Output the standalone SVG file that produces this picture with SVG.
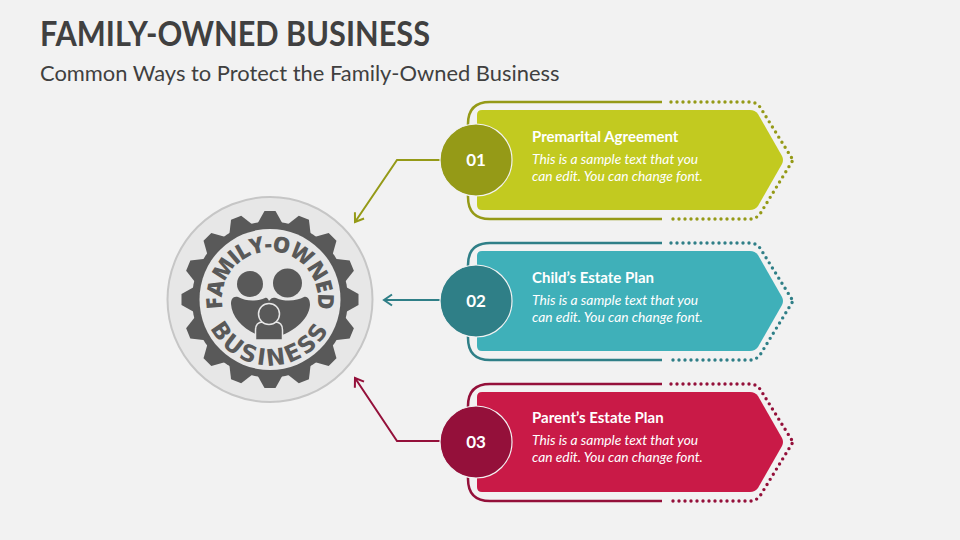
<svg xmlns="http://www.w3.org/2000/svg" xmlns:xlink="http://www.w3.org/1999/xlink" width="960" height="540" viewBox="0 0 960 540">
<style>
text{font-family:"Lato","Open Sans","Liberation Sans",sans-serif}
.title{font-size:34px;font-weight:700;fill:#404040}
.sub{font-size:21.9px;fill:#404040}
.h{font-size:15px;font-weight:700;fill:#fff}
.b{font-size:13.8px;font-style:italic;fill:#fff}
.n{font-size:17px;font-weight:700;fill:#fff;text-anchor:middle}
.arc{font-family:"Open Sans","Liberation Sans",sans-serif;font-size:22px;font-weight:800;letter-spacing:-.8px;fill:#595959;text-anchor:middle}
.arc2{font-family:"DejaVu Sans","Liberation Sans",sans-serif;font-size:23px;font-weight:700;letter-spacing:2.5px;fill:#595959;text-anchor:middle}
.solid{fill:none;stroke-width:2.5}
.dots{fill:none;stroke-width:3.4;stroke-dasharray:0 6;stroke-linecap:round}
.conn{fill:none;stroke-width:2}
.ring{stroke:#f2f2f2;stroke-width:1.2}
</style>
<defs>
<path id="card" d="M482,110H750Q755,110 758,114L782,156Q784,160 782,164L758,206Q755,210 750,210H482Q477,210 477,205V115Q477,110 482,110Z"/>
<path id="so" class="solid" d="M662,102H490Q468,102 468,124V197Q468,219 490,219H662"/>
<path id="do" class="dots" d="M671,102H750Q756,102 760,107L793,160"/>
<path id="do2" class="dots" d="M673,219H750Q756,219 760,214L793,160"/>
<path id="tooth" d="M264.500,211H275.500L285,228H255Z"/>
<path id="top" d="M233.200,330.400A48,48 0 1 1 306.800,330.400"/>
<path id="bot" d="M204,299.500A66,66 0 0 0 336,299.500"/>
<marker id="mo" markerWidth="14" markerHeight="14" refX="11" refY="7" orient="auto" markerUnits="userSpaceOnUse"><path d="M3,1.500L11,7L3,12.500" fill="none" stroke="#959a17" stroke-width="2"/></marker>
<marker id="mt" markerWidth="14" markerHeight="14" refX="11" refY="7" orient="auto" markerUnits="userSpaceOnUse"><path d="M3,1.500L11,7L3,12.500" fill="none" stroke="#2f7f87" stroke-width="2"/></marker>
<marker id="mr" markerWidth="14" markerHeight="14" refX="11" refY="7" orient="auto" markerUnits="userSpaceOnUse"><path d="M3,1.500L11,7L3,12.500" fill="none" stroke="#94103a" stroke-width="2"/></marker>
</defs>
<rect width="960" height="540" fill="#f2f2f2"/>
<text class="title" x="40" y="46" textLength="390" lengthAdjust="spacingAndGlyphs">FAMILY-OWNED BUSINESS</text>
<text class="sub" x="40" y="81">Common Ways to Protect the Family-Owned Business</text>
<g id="connectors">
<path class="conn" stroke="#959a17" marker-end="url(#mo)" d="M441,160H397L355,222"/>
<path class="conn" stroke="#2f7f87" marker-end="url(#mt)" d="M441,300H384"/>
<path class="conn" stroke="#94103a" marker-end="url(#mr)" d="M441,441H397L355,378"/>
</g>
<g id="hub">
<circle cx="270" cy="299.500" r="102.500" fill="#e7e7e7" stroke="#c6c6c6" stroke-width="2"/>
<g fill="#595959">
<circle cx="270" cy="299.500" r="78"/>
<use xlink:href="#tooth"/>
<use xlink:href="#tooth" transform="rotate(22.5 270 299.500)"/>
<use xlink:href="#tooth" transform="rotate(45 270 299.500)"/>
<use xlink:href="#tooth" transform="rotate(67.5 270 299.500)"/>
<use xlink:href="#tooth" transform="rotate(90 270 299.500)"/>
<use xlink:href="#tooth" transform="rotate(112.5 270 299.500)"/>
<use xlink:href="#tooth" transform="rotate(135 270 299.500)"/>
<use xlink:href="#tooth" transform="rotate(157.5 270 299.500)"/>
<use xlink:href="#tooth" transform="rotate(180 270 299.500)"/>
<use xlink:href="#tooth" transform="rotate(202.5 270 299.500)"/>
<use xlink:href="#tooth" transform="rotate(225 270 299.500)"/>
<use xlink:href="#tooth" transform="rotate(247.5 270 299.500)"/>
<use xlink:href="#tooth" transform="rotate(270 270 299.500)"/>
<use xlink:href="#tooth" transform="rotate(292.5 270 299.500)"/>
<use xlink:href="#tooth" transform="rotate(315 270 299.500)"/>
<use xlink:href="#tooth" transform="rotate(337.5 270 299.500)"/>
</g>
<circle cx="270" cy="299.500" r="70.500" fill="#e7e7e7"/>
<text class="arc"><textPath xlink:href="#top" startOffset="50%">FAMILY-OWNED</textPath></text>
<text class="arc2"><textPath xlink:href="#bot" startOffset="50%">BUSINESS</textPath></text>
<g fill="#595959">
<circle cx="250" cy="284" r="13"/>
<circle cx="287.500" cy="283" r="14.500"/>
<path d="M231,304C231,299 233,296 238,297C247,302 258,301 265,298C267,297 268,299 269,301C271,298 273,297 276,298C285,302 297,301 304,297C308,296 310,300 310,305C309,320 292,334 270,339C248,334 232,320 231,304Z"/>
<path d="M255.500,340V330Q255.500,322 263,322H275Q282.500,322 282.500,330V340Z" stroke="#e7e7e7" stroke-width="1.500"/>
<circle cx="269" cy="314" r="10.500" stroke="#e7e7e7" stroke-width="1.500"/>
</g>
</g>
<g id="item-1" fill="#c2ca20" stroke="#959a17">
<use xlink:href="#so"/><use xlink:href="#do"/><use xlink:href="#do2"/>
<use xlink:href="#card" stroke="none"/>
<circle class="ring" cx="476" cy="160" r="36" fill="#959a17"/>
<text class="n" x="476" y="166" stroke="none">01</text>
<text class="h" x="532" y="142" stroke="none">Premarital Agreement</text>
<text class="b" x="532" y="164" stroke="none">This is a sample text that you</text>
<text class="b" x="532" y="181" stroke="none">can edit. You can change font.</text>
</g>
<g id="item-2" fill="#3fb0b9" stroke="#2f7f87">
<g transform="translate(0 141)"><use xlink:href="#so"/><use xlink:href="#do"/><use xlink:href="#do2"/>
<use xlink:href="#card" stroke="none"/></g>
<circle class="ring" cx="476" cy="301" r="36" fill="#2f7f87"/>
<text class="n" x="476" y="307" stroke="none">02</text>
<text class="h" x="532" y="283" stroke="none">Child’s Estate Plan</text>
<text class="b" x="532" y="305" stroke="none">This is a sample text that you</text>
<text class="b" x="532" y="322" stroke="none">can edit. You can change font.</text>
</g>
<g id="item-3" fill="#c91a47" stroke="#94103a">
<g transform="translate(0 282)"><use xlink:href="#so"/><use xlink:href="#do"/><use xlink:href="#do2"/>
<use xlink:href="#card" stroke="none"/></g>
<circle class="ring" cx="476" cy="442" r="36" fill="#94103a"/>
<text class="n" x="476" y="448" stroke="none">03</text>
<text class="h" x="532" y="423" stroke="none">Parent’s Estate Plan</text>
<text class="b" x="532" y="445" stroke="none">This is a sample text that you</text>
<text class="b" x="532" y="462" stroke="none">can edit. You can change font.</text>
</g>
</svg>
